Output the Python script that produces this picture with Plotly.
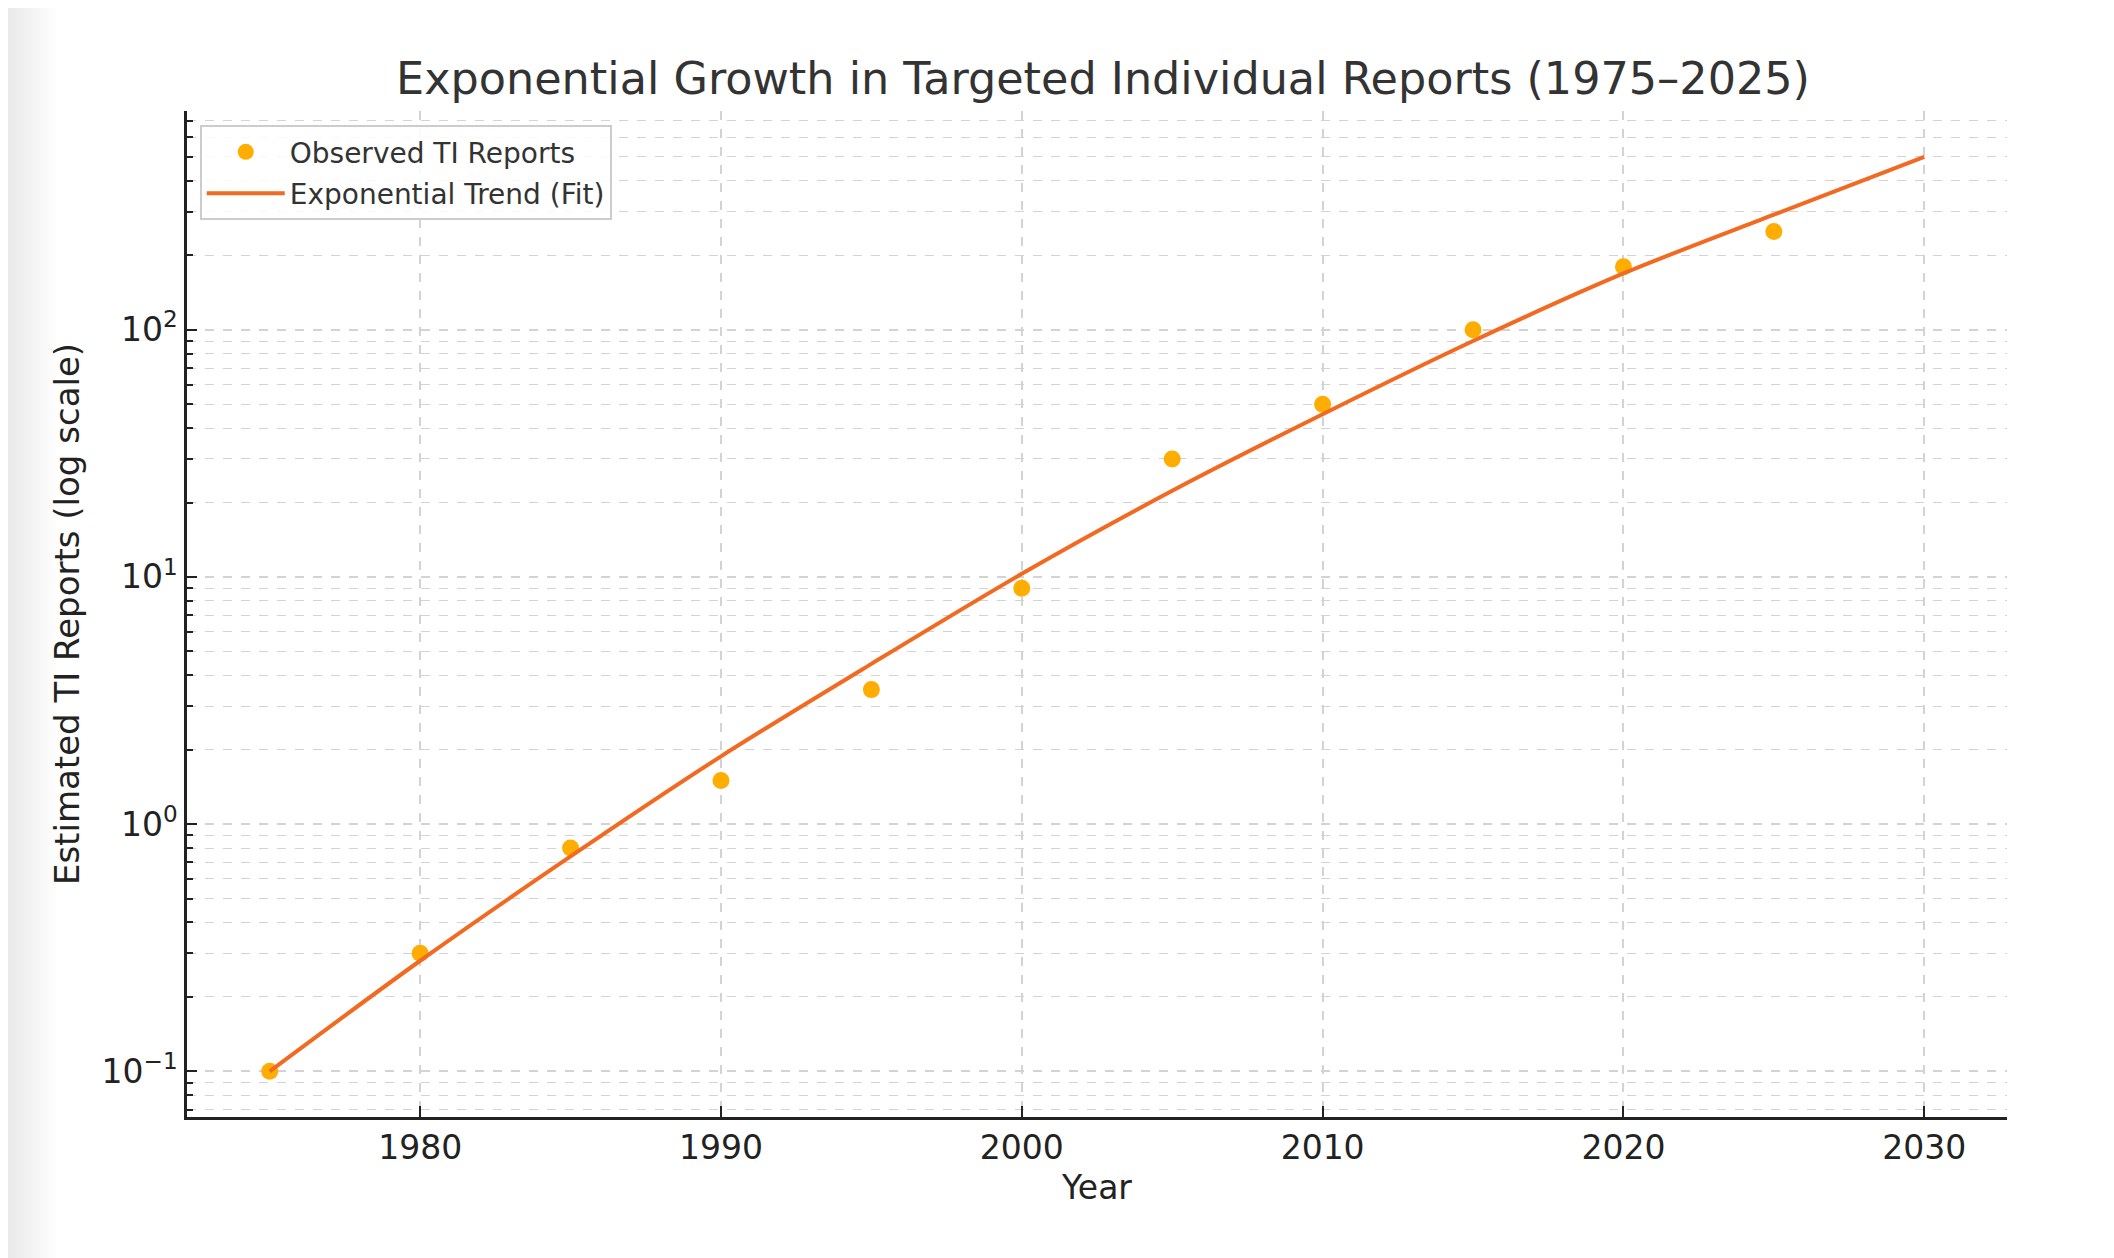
import plotly.graph_objects as go

# Observed data
years_obs = [1975, 1980, 1985, 1990, 1995, 2000, 2005, 2010, 2015, 2020, 2025]
reports_obs = [0.1, 0.3, 0.8, 1.5, 3.5, 9, 30, 50, 100, 180, 250]

# Exponential trend
years_fit = [1975, 1980, 1985, 1990, 1995, 2000, 2005, 2010, 2015, 2020, 2025, 2030]
reports_fit = [0.1, 0.28, 0.74, 1.88, 4.45, 10.3, 22.3, 45.5, 90, 169, 292, 500]

# Tick labels
x_ticks = [1980, 1990, 2000, 2010, 2020, 2030]
y_ticks = [0.1, 1, 10, 100]
y_ticktext = ["10<sup>−1</sup>", "10<sup>0</sup>", "10<sup>1</sup>", "10<sup>2</sup>"]

FONT = "DejaVu Sans"
GRID = "#d3d3d3"
W, H = 2114, 1258
ML, MR, MT, MB = 179, 115, 103, 149

fig = go.Figure()
fig.add_trace(go.Scatter(
    x=years_obs, y=reports_obs, mode="markers", name="Observed TI Reports",
    legendgroup="obs",
    marker=dict(color="#FFAD00", size=17, line=dict(width=0)),
))
fig.add_trace(go.Scatter(
    x=years_fit, y=reports_fit, mode="lines", name="Exponential Trend (Fit)",
    legendgroup="fit",
    line=dict(color="#F26A21", width=4, shape="spline", smoothing=0.8),
))

# faint grey shading at the left edge of the page (screenshot shadow)
pw = W - ML - MR
n = 12
for i in range(n):
    x0 = i * 4
    g = 234 + int(21 * i / n)
    fig.add_shape(type="rect", xref="paper", yref="paper",
                  x0=(x0 - ML) / pw, x1=(x0 + 4 - ML) / pw,
                  y0=-MB / (H - MT - MB), y1=1 + MT / (H - MT - MB),
                  fillcolor=f"rgb({g},{g},{g})", line=dict(width=0), layer="below")

fig.update_layout(
    width=W, height=H,
    paper_bgcolor="white", plot_bgcolor="white",
    margin=dict(l=ML, r=MR, t=MT, b=MB),
    font=dict(family=FONT, color="#222222", size=33),
    title=dict(text="Exponential Growth in Targeted Individual Reports (1975–2025)",
               x=0.518, xanchor="center", y=1 - 70 / H, yanchor="middle",
               font=dict(size=44.5, color="#333333", family=FONT)),
    legend=dict(x=0.007, y=0.986, xanchor="left", yanchor="top",
                bgcolor="rgba(255,255,255,0.85)", bordercolor="#cccccc", borderwidth=2,
                font=dict(size=28, color="#333333", family=FONT),
                tracegroupgap=2, itemwidth=78),
    showlegend=True,
)

fig.update_xaxes(
    range=[1972.25, 2032.75], tickvals=x_ticks,
    showgrid=True, gridcolor=GRID, griddash="dash", gridwidth=1.5,
    showline=True, linecolor="#222222", linewidth=2.5, mirror=False,
    ticks="inside", ticklen=11, tickwidth=2, tickcolor="#222222",
    tickfont=dict(size=33, color="#222222"),
    title=dict(text="Year", font=dict(size=33, color="#222222"), standoff=10),
    zeroline=False,
)
fig.update_yaxes(
    type="log", range=[-1.185, 2.885], tickvals=y_ticks, ticktext=y_ticktext,
    showgrid=True, gridcolor=GRID, griddash="dash", gridwidth=1.5,
    showline=True, linecolor="#222222", linewidth=2.5, mirror=False,
    ticks="inside", ticklen=10, tickwidth=2, tickcolor="#222222",
    tickfont=dict(size=33, color="#222222"),
    minor=dict(dtick="D1", showgrid=True, gridcolor=GRID, griddash="dash", gridwidth=1.2,
               ticks="inside", ticklen=6, tickwidth=1.5, tickcolor="#222222"),
    title=dict(text="Estimated TI Reports (log scale)", font=dict(size=34, color="#222222"), standoff=12),
    zeroline=False,
)

fig.write_html("out.html")
